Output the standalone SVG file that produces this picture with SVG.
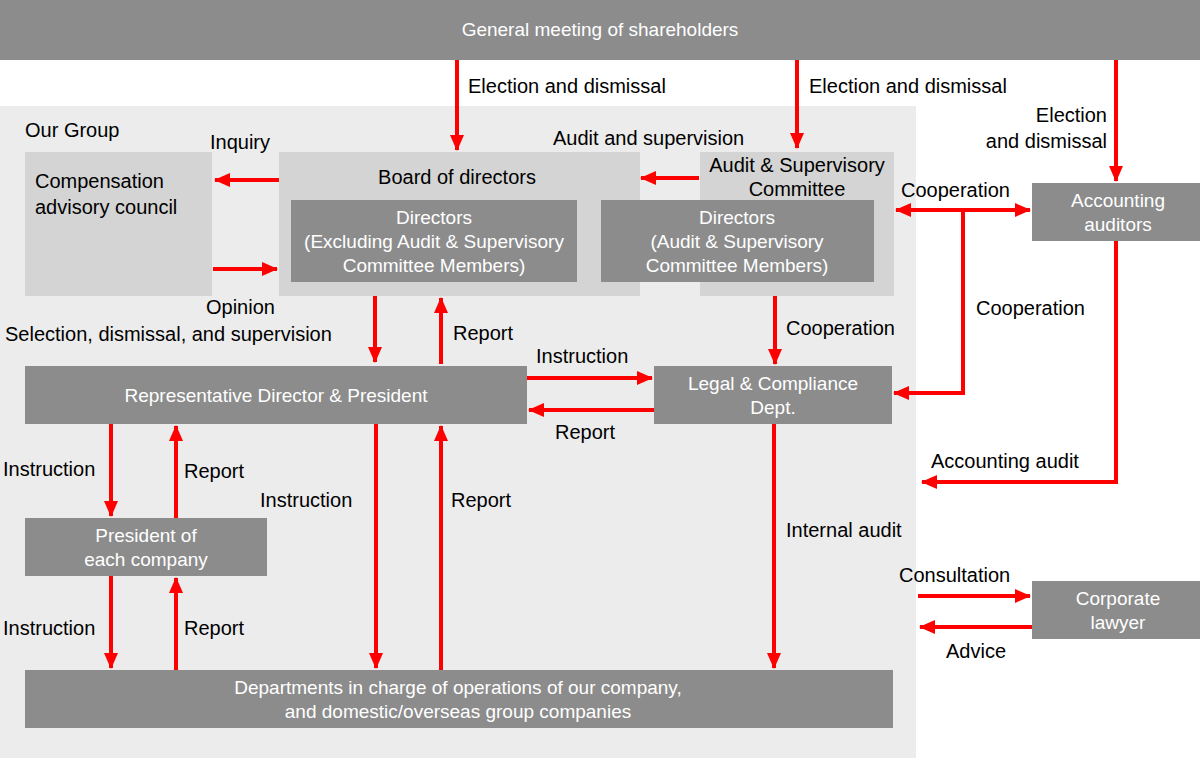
<svg xmlns="http://www.w3.org/2000/svg" width="1200" height="758" viewBox="0 0 1200 758">
<style>
text{font-family:"Liberation Sans",Arial,sans-serif;font-size:20px;fill:#000}
.w{fill:#fff;font-size:19px;text-anchor:middle}
.c{text-anchor:middle}
.e{text-anchor:end}
.d{fill:#8c8c8c}
.l{fill:#d4d4d4}
.a{stroke:#ff0000;stroke-width:4;fill:none;marker-end:url(#ah)}
</style>
<defs>
<marker id="ah" markerUnits="userSpaceOnUse" markerWidth="16" markerHeight="14" refX="15" refY="7" orient="auto-start-reverse"><path d="M0,0 L16,7 L0,14 Z" fill="#ff0000"/></marker>
</defs>
<rect x="0" y="106" width="916" height="652" fill="#ececec"/>
<g id="shareholders"><rect class="d" x="0" y="0" width="1200" height="60"/><text class="w" x="600" y="36">General meeting of shareholders</text></g>
<text x="25" y="137">Our Group</text>
<g id="compensation"><rect class="l" x="25" y="152" width="187" height="144"/><text x="35" y="188">Compensation</text><text x="35" y="214">advisory council</text></g>
<g id="board"><rect class="l" x="279" y="152" width="361" height="144"/><text class="c" x="457" y="184">Board of directors</text></g>
<g id="directors1"><rect class="d" x="291" y="200" width="286" height="82"/><text class="w" x="434" y="224">Directors</text><text class="w" x="434" y="248">(Excluding Audit &amp; Supervisory</text><text class="w" x="434" y="272">Committee Members)</text></g>
<g id="committee"><rect class="l" x="700" y="152" width="194" height="144"/><text class="c" x="797" y="172">Audit &amp; Supervisory</text><text class="c" x="797" y="196">Committee</text></g>
<g id="directors2"><rect class="d" x="601" y="200" width="273" height="82"/><text class="w" x="737" y="224">Directors</text><text class="w" x="737" y="248">(Audit &amp; Supervisory</text><text class="w" x="737" y="272">Committee Members)</text></g>
<g id="auditors"><rect class="d" x="1032" y="183" width="168" height="58"/><text class="w" x="1118" y="207">Accounting</text><text class="w" x="1118" y="231">auditors</text></g>
<g id="president"><rect class="d" x="25" y="366" width="502" height="58"/><text class="w" x="276" y="402">Representative Director &amp; President</text></g>
<g id="legal"><rect class="d" x="654" y="366" width="238" height="58"/><text class="w" x="773" y="390">Legal &amp; Compliance</text><text class="w" x="773" y="414">Dept.</text></g>
<g id="companyPresident"><rect class="d" x="25" y="518" width="242" height="58"/><text class="w" x="146" y="542">President of</text><text class="w" x="146" y="566">each company</text></g>
<g id="departments"><rect class="d" x="25" y="670" width="868" height="58"/><text class="w" x="458" y="694">Departments in charge of operations of our company,</text><text class="w" x="458" y="718">and domestic/overseas group companies</text></g>
<g id="lawyer"><rect class="d" x="1032" y="581" width="168" height="58"/><text class="w" x="1118" y="605">Corporate</text><text class="w" x="1118" y="629">lawyer</text></g>
<g id="connectors">
<line class="a" x1="457" y1="60" x2="457" y2="150"/>
<line class="a" x1="797" y1="60" x2="797" y2="148"/>
<line class="a" x1="1116" y1="60" x2="1116" y2="181"/>
<line class="a" x1="699" y1="178" x2="641" y2="178"/>
<line class="a" x1="279" y1="180" x2="215" y2="180"/>
<line class="a" x1="213" y1="269" x2="277" y2="269"/>
<line class="a" x1="375" y1="296" x2="375" y2="362"/>
<line class="a" x1="441" y1="364" x2="441" y2="298"/>
<line class="a" x1="775" y1="296" x2="775" y2="364"/>
<line class="a" x1="896" y1="210" x2="1030" y2="210" style="marker-start:url(#ah)"/>
<polyline class="a" points="963,210 963,393 894,393"/>
<line class="a" x1="527" y1="378" x2="652" y2="378"/>
<line class="a" x1="654" y1="410" x2="529" y2="410"/>
<polyline class="a" points="1116,241 1116,482 922,482"/>
<line class="a" x1="111" y1="424" x2="111" y2="516"/>
<line class="a" x1="176" y1="518" x2="176" y2="426"/>
<line class="a" x1="376" y1="424" x2="376" y2="668"/>
<line class="a" x1="441" y1="670" x2="441" y2="426"/>
<line class="a" x1="774" y1="424" x2="774" y2="668"/>
<line class="a" x1="111" y1="576" x2="111" y2="668"/>
<line class="a" x1="176" y1="670" x2="176" y2="578"/>
<line class="a" x1="918" y1="596" x2="1030" y2="596"/>
<line class="a" x1="1032" y1="627" x2="920" y2="627"/>
</g>
<g id="labels">
<text x="468" y="93">Election and dismissal</text>
<text x="809" y="93">Election and dismissal</text>
<text class="e" x="1107" y="122">Election</text>
<text class="e" x="1107" y="148">and dismissal</text>
<text x="553" y="145">Audit and supervision</text>
<text x="210" y="149">Inquiry</text>
<text x="206" y="314">Opinion</text>
<text x="5" y="341">Selection, dismissal, and supervision</text>
<text x="453" y="340">Report</text>
<text x="786" y="335">Cooperation</text>
<text x="901" y="197">Cooperation</text>
<text x="976" y="315">Cooperation</text>
<text x="536" y="363">Instruction</text>
<text x="555" y="439">Report</text>
<text x="931" y="468">Accounting audit</text>
<text x="3" y="476">Instruction</text>
<text x="184" y="478">Report</text>
<text x="260" y="507">Instruction</text>
<text x="451" y="507">Report</text>
<text x="786" y="537">Internal audit</text>
<text x="3" y="635">Instruction</text>
<text x="184" y="635">Report</text>
<text x="899" y="582">Consultation</text>
<text x="946" y="658">Advice</text>
</g>
</svg>
